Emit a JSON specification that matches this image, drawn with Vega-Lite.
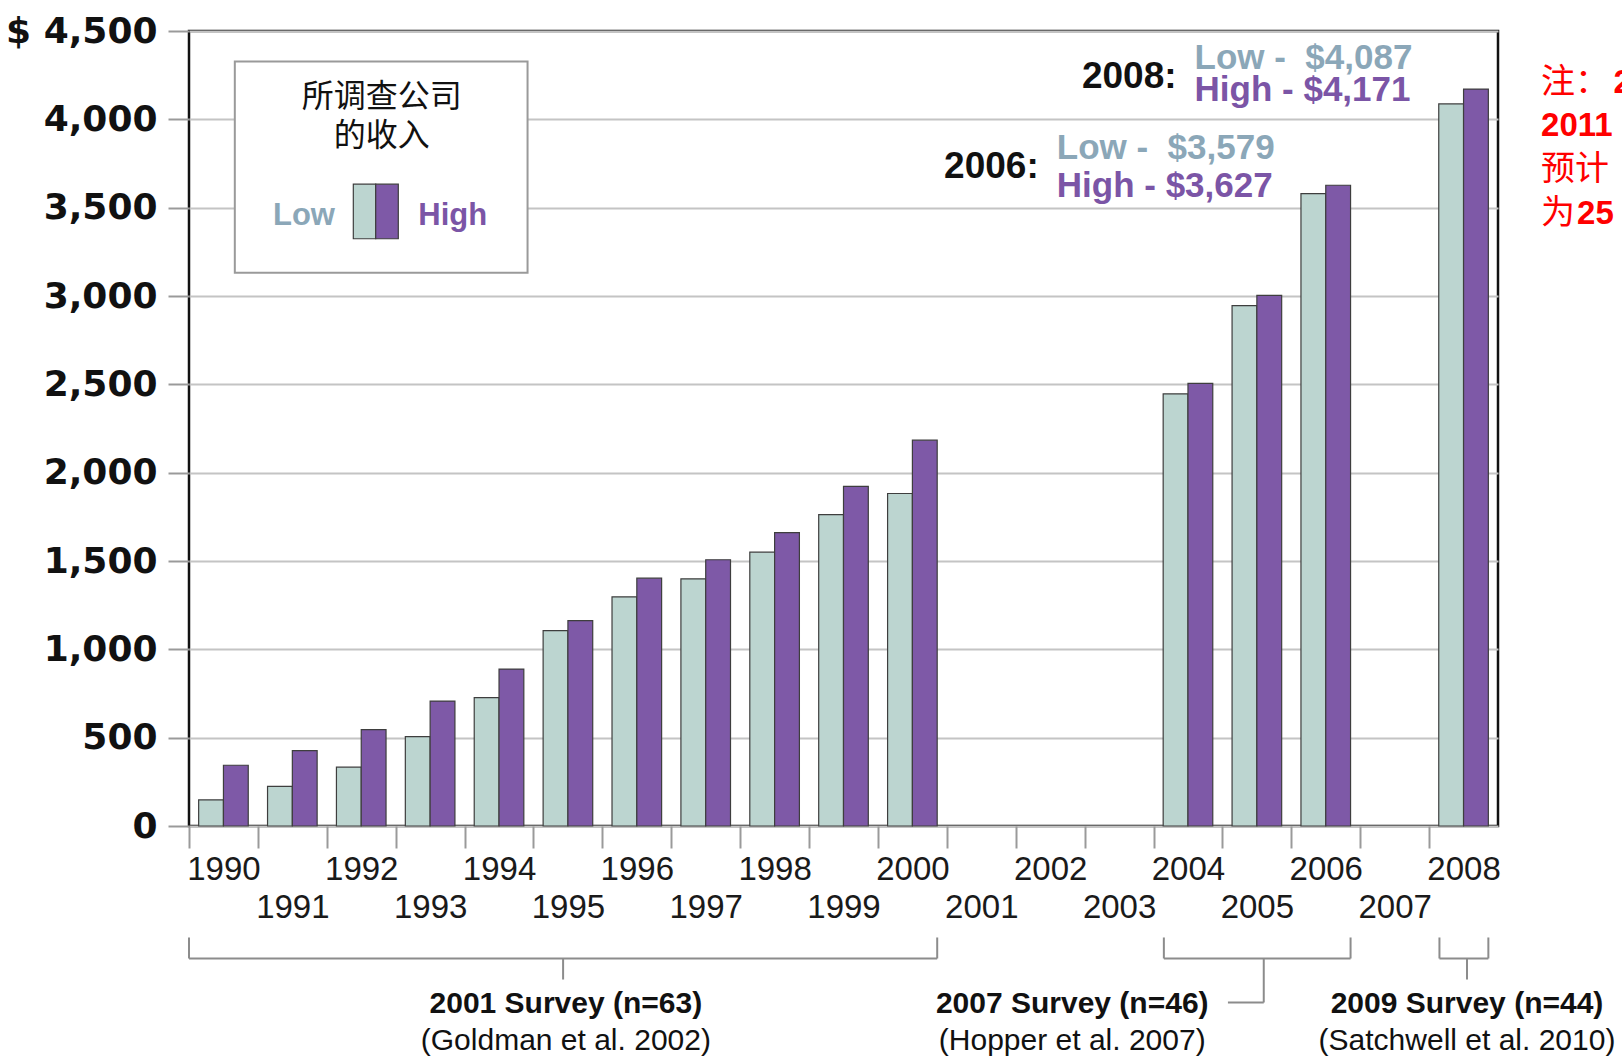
{
  "$schema": "https://vega.github.io/schema/vega-lite/v6.json",
  "width": 1309,
  "height": 795,
  "autosize": {"type": "none"},
  "padding": {"left": 189, "top": 31, "right": 124, "bottom": 232},
  "background": "white",
  "config": {
    "view": {"stroke": "#111111", "strokeWidth": 2.5},
    "font": "Liberation Sans"
  },
  "datasets": {
    "bars": [
      {"year": 1990, "level": "Low", "value": 148}, {"year": 1990, "level": "High", "value": 344},
      {"year": 1991, "level": "Low", "value": 224}, {"year": 1991, "level": "High", "value": 427},
      {"year": 1992, "level": "Low", "value": 333}, {"year": 1992, "level": "High", "value": 546},
      {"year": 1993, "level": "Low", "value": 506}, {"year": 1993, "level": "High", "value": 707},
      {"year": 1994, "level": "Low", "value": 727}, {"year": 1994, "level": "High", "value": 888},
      {"year": 1995, "level": "Low", "value": 1106}, {"year": 1995, "level": "High", "value": 1163},
      {"year": 1996, "level": "Low", "value": 1297}, {"year": 1996, "level": "High", "value": 1403},
      {"year": 1997, "level": "Low", "value": 1399}, {"year": 1997, "level": "High", "value": 1507},
      {"year": 1998, "level": "Low", "value": 1550}, {"year": 1998, "level": "High", "value": 1661},
      {"year": 1999, "level": "Low", "value": 1763}, {"year": 1999, "level": "High", "value": 1922},
      {"year": 2000, "level": "Low", "value": 1882}, {"year": 2000, "level": "High", "value": 2184},
      {"year": 2004, "level": "Low", "value": 2446}, {"year": 2004, "level": "High", "value": 2505},
      {"year": 2005, "level": "Low", "value": 2946}, {"year": 2005, "level": "High", "value": 3004},
      {"year": 2006, "level": "Low", "value": 3579}, {"year": 2006, "level": "High", "value": 3627},
      {"year": 2008, "level": "Low", "value": 4087}, {"year": 2008, "level": "High", "value": 4171}
    ],
    "notes": [
      {"year": 2006, "low": 3579, "high": 3627, "tag": "2006:", "lowText": "Low -\u00a0\u00a0$3,579", "highText": "High - $3,627"},
      {"year": 2008, "low": 4087, "high": 4171, "tag": "2008:", "lowText": "Low -\u00a0\u00a0$4,087", "highText": "High - $4,171"}
    ],
    "surveys": [
      {"title": "2001 Survey (n=63)", "source": "(Goldman et al. 2002)", "start": 1989.5, "end": 2000.36, "mid": 1994.93, "labelAt": 1994.97},
      {"title": "2007 Survey (n=46)", "source": "(Hopper et al. 2007)", "start": 2003.65, "end": 2006.36, "mid": 2005.1, "labelAt": 2002.32},
      {"title": "2009 Survey (n=44)", "source": "(Satchwell et al. 2010)", "start": 2007.65, "end": 2008.36, "mid": 2008.05, "labelAt": 2008.05}
    ]
  },
  "layer": [
    {
      "data": {"name": "bars"},
      "transform": [{"filter": "datum.level == 'Low'"}],
      "mark": {"type": "bar", "orient": "vertical", "width": 24.8, "xOffset": -12.4, "stroke": "#3e3e3e", "strokeWidth": 1.2},
      "encoding": {
        "x": {
          "field": "year", "type": "quantitative",
          "scale": {"domain": [1989.5, 2008.5], "nice": false, "zero": false, "padding": 0},
          "axis": {
            "orient": "bottom",
            "values": [1990,1991,1992,1993,1994,1995,1996,1997,1998,1999,2000,2001,2002,2003,2004,2005,2006,2007,2008,2009],
            "format": "d", "labelAngle": 0, "labelFont": "Liberation Sans", "labelFontSize": 33,
            "labelColor": "#1a1a1a", "labelPadding": 5, "tickSize": 22, "tickColor": "#9a9a9a", "tickWidth": 2,
            "tickOffset": -34.45, "labelOffset": 34.45,
            "domain": false, "grid": false, "title": null, "labelOverlap": false, "labelBound": false, "labelFlush": false,
            "labelLineHeight": 38,
            "labelExpr": "datum.value == 2009 ? '' : (datum.value % 2 == 1 ? ['', datum.label] : datum.label)"
          }
        },
        "y": {
          "field": "value", "type": "quantitative", "stack": null,
          "scale": {"domain": [0, 4500], "nice": false, "zero": true},
          "axis": {
            "values": [0,500,1000,1500,2000,2500,3000,3500,4000,4500], "format": ",d",
            "labelExpr": "datum.value == 4500 ? '$ 4,500' : datum.label",
            "labelFont": "DejaVu Sans", "labelFontWeight": "bold", "labelFontSize": 36, "labelColor": "#111111",
            "labelPadding": 11, "tickSize": 21, "tickColor": "#9a9a9a", "tickWidth": 2,
            "gridColor": "#c4c4c4", "gridWidth": 2, "domain": false, "title": null
          }
        },
        "color": {"field": "level", "type": "nominal", "scale": {"domain": ["Low", "High"], "range": ["#bcd5d0", "#7e59a7"]}, "legend": null}
      }
    },
    {
      "data": {"name": "bars"},
      "transform": [{"filter": "datum.level == 'High'"}],
      "mark": {"type": "bar", "orient": "vertical", "width": 24.8, "xOffset": 12.4, "stroke": "#3e3e3e", "strokeWidth": 1.2},
      "encoding": {
        "x": {"field": "year", "type": "quantitative"},
        "y": {"field": "value", "type": "quantitative", "stack": null},
        "color": {"field": "level", "type": "nominal", "legend": null}
      }
    },
    {
      "data": {"name": "notes"},
      "mark": {"type": "text", "align": "right", "baseline": "middle", "dx": -287, "dy": -27, "font": "Liberation Sans", "fontWeight": "bold", "fontSize": 37, "fill": "#111111"},
      "encoding": {"x": {"field": "year", "type": "quantitative"}, "y": {"field": "low", "type": "quantitative"}, "text": {"field": "tag"}}
    },
    {
      "data": {"name": "notes"},
      "mark": {"type": "text", "align": "left", "baseline": "middle", "dx": -269, "dy": -46, "font": "Liberation Sans", "fontWeight": "bold", "fontSize": 35, "fill": "#8ba7b8"},
      "encoding": {"x": {"field": "year", "type": "quantitative"}, "y": {"field": "low", "type": "quantitative"}, "text": {"field": "lowText"}}
    },
    {
      "data": {"name": "notes"},
      "mark": {"type": "text", "align": "left", "baseline": "middle", "dx": -269, "dy": 1, "font": "Liberation Sans", "fontWeight": "bold", "fontSize": 35, "fill": "#7b55a6"},
      "encoding": {"x": {"field": "year", "type": "quantitative"}, "y": {"field": "high", "type": "quantitative"}, "text": {"field": "highText"}}
    },
    {
      "data": {"name": "notes"},
      "transform": [{"filter": "datum.year == 2008"}],
      "mark": {"type": "text", "align": "left", "baseline": "middle", "dx": 77.5, "dy": -6.5, "font": "Noto Sans CJK SC", "fontSize": 34, "fill": "#ff0000"},
      "encoding": {"x": {"field": "year", "type": "quantitative"}, "y": {"field": "high", "type": "quantitative"}, "text": {"value": "注："}}
    },
    {
      "data": {"name": "notes"},
      "transform": [{"filter": "datum.year == 2008"}],
      "mark": {"type": "text", "align": "left", "baseline": "middle", "dx": 150, "dy": -6.5, "font": "Liberation Sans", "fontWeight": "bold", "fontSize": 33, "fill": "#ff0000"},
      "encoding": {"x": {"field": "year", "type": "quantitative"}, "y": {"field": "high", "type": "quantitative"}, "text": {"value": "2"}}
    },
    {
      "data": {"name": "notes"},
      "transform": [{"filter": "datum.year == 2008"}],
      "mark": {"type": "text", "align": "left", "baseline": "middle", "dx": 77.5, "dy": 36.5, "font": "Liberation Sans", "fontWeight": "bold", "fontSize": 33, "fill": "#ff0000"},
      "encoding": {"x": {"field": "year", "type": "quantitative"}, "y": {"field": "high", "type": "quantitative"}, "text": {"value": "2011"}}
    },
    {
      "data": {"name": "notes"},
      "transform": [{"filter": "datum.year == 2008"}],
      "mark": {"type": "text", "align": "left", "baseline": "middle", "dx": 77.5, "dy": 80.5, "font": "Noto Sans CJK SC", "fontSize": 34, "fill": "#ff0000"},
      "encoding": {"x": {"field": "year", "type": "quantitative"}, "y": {"field": "high", "type": "quantitative"}, "text": {"value": "预计"}}
    },
    {
      "data": {"name": "notes"},
      "transform": [{"filter": "datum.year == 2008"}],
      "mark": {"type": "text", "align": "left", "baseline": "middle", "dx": 77.5, "dy": 125, "font": "Noto Sans CJK SC", "fontSize": 34, "fill": "#ff0000"},
      "encoding": {"x": {"field": "year", "type": "quantitative"}, "y": {"field": "high", "type": "quantitative"}, "text": {"value": "为"}}
    },
    {
      "data": {"name": "notes"},
      "transform": [{"filter": "datum.year == 2008"}],
      "mark": {"type": "text", "align": "left", "baseline": "middle", "dx": 113.5, "dy": 125, "font": "Liberation Sans", "fontWeight": "bold", "fontSize": 33, "fill": "#ff0000"},
      "encoding": {"x": {"field": "year", "type": "quantitative"}, "y": {"field": "high", "type": "quantitative"}, "text": {"value": "25"}}
    },
    {
      "data": {"name": "surveys"},
      "mark": {"type": "rule", "stroke": "#8c8c8c", "strokeWidth": 2},
      "encoding": {"x": {"field": "start", "type": "quantitative"}, "y": {"datum": -631, "type": "quantitative"}, "y2": {"datum": -750}}
    },
    {
      "data": {"name": "surveys"},
      "mark": {"type": "rule", "stroke": "#8c8c8c", "strokeWidth": 2},
      "encoding": {"x": {"field": "end", "type": "quantitative"}, "y": {"datum": -631, "type": "quantitative"}, "y2": {"datum": -750}}
    },
    {
      "data": {"name": "surveys"},
      "mark": {"type": "rule", "stroke": "#8c8c8c", "strokeWidth": 2},
      "encoding": {"x": {"field": "start", "type": "quantitative"}, "x2": {"field": "end"}, "y": {"datum": -750, "type": "quantitative"}}
    },
    {
      "data": {"name": "surveys"},
      "transform": [{"filter": "datum.title != '2007 Survey (n=46)'"}],
      "mark": {"type": "rule", "stroke": "#8c8c8c", "strokeWidth": 2},
      "encoding": {"x": {"field": "mid", "type": "quantitative"}, "y": {"datum": -750, "type": "quantitative"}, "y2": {"datum": -869}}
    },
    {
      "data": {"name": "surveys"},
      "transform": [{"filter": "datum.title == '2007 Survey (n=46)'"}],
      "mark": {"type": "rule", "stroke": "#8c8c8c", "strokeWidth": 2},
      "encoding": {"x": {"field": "mid", "type": "quantitative"}, "y": {"datum": -750, "type": "quantitative"}, "y2": {"datum": -999}}
    },
    {
      "data": {"values": [{}]},
      "mark": {"type": "rule", "stroke": "#8c8c8c", "strokeWidth": 2},
      "encoding": {"x": {"datum": 2004.58, "type": "quantitative"}, "x2": {"datum": 2005.1}, "y": {"datum": -999, "type": "quantitative"}}
    },
    {
      "data": {"name": "surveys"},
      "mark": {"type": "text", "align": "center", "baseline": "middle", "font": "Liberation Sans", "fontWeight": "bold", "fontSize": 30, "fill": "#111111"},
      "encoding": {"x": {"field": "labelAt", "type": "quantitative"}, "y": {"datum": -1010, "type": "quantitative"}, "text": {"field": "title"}}
    },
    {
      "data": {"name": "surveys"},
      "mark": {"type": "text", "align": "center", "baseline": "middle", "font": "Liberation Sans", "fontSize": 30, "fill": "#111111"},
      "encoding": {"x": {"field": "labelAt", "type": "quantitative"}, "y": {"datum": -1215, "type": "quantitative"}, "text": {"field": "source"}}
    },
    {
      "data": {"values": [{}]},
      "mark": {"type": "rect", "fill": "white", "stroke": "#9a9a9a", "strokeWidth": 2},
      "encoding": {"x": {"datum": 1990.165, "type": "quantitative"}, "x2": {"datum": 1994.414}, "y": {"datum": 4327, "type": "quantitative"}, "y2": {"datum": 3132}}
    },
    {
      "data": {"values": [{}]},
      "mark": {"type": "text", "align": "center", "baseline": "middle", "font": "Noto Sans CJK SC", "fontSize": 32, "fill": "#111111", "lineHeight": 39},
      "encoding": {"x": {"datum": 1992.297, "type": "quantitative"}, "y": {"datum": 4127, "type": "quantitative"}, "text": {"value": ["所调查公司", "的收入"]}}
    },
    {
      "data": {"values": [{}]},
      "mark": {"type": "rect", "fill": "#bcd5d0", "stroke": "#3e3e3e", "strokeWidth": 1.2},
      "encoding": {"x": {"datum": 1991.885, "type": "quantitative"}, "x2": {"datum": 1992.21}, "y": {"datum": 3633, "type": "quantitative"}, "y2": {"datum": 3324}}
    },
    {
      "data": {"values": [{}]},
      "mark": {"type": "rect", "fill": "#7e59a7", "stroke": "#3e3e3e", "strokeWidth": 1.2},
      "encoding": {"x": {"datum": 1992.21, "type": "quantitative"}, "x2": {"datum": 1992.538}, "y": {"datum": 3633, "type": "quantitative"}, "y2": {"datum": 3324}}
    },
    {
      "data": {"values": [{}]},
      "mark": {"type": "text", "align": "right", "baseline": "middle", "font": "Liberation Sans", "fontWeight": "bold", "fontSize": 31, "fill": "#8ba7b8"},
      "encoding": {"x": {"datum": 1991.619, "type": "quantitative"}, "y": {"datum": 3452, "type": "quantitative"}, "text": {"value": "Low"}}
    },
    {
      "data": {"values": [{}]},
      "mark": {"type": "text", "align": "left", "baseline": "middle", "font": "Liberation Sans", "fontWeight": "bold", "fontSize": 31, "fill": "#7b55a6"},
      "encoding": {"x": {"datum": 1992.829, "type": "quantitative"}, "y": {"datum": 3452, "type": "quantitative"}, "text": {"value": "High"}}
    }
  ]
}
